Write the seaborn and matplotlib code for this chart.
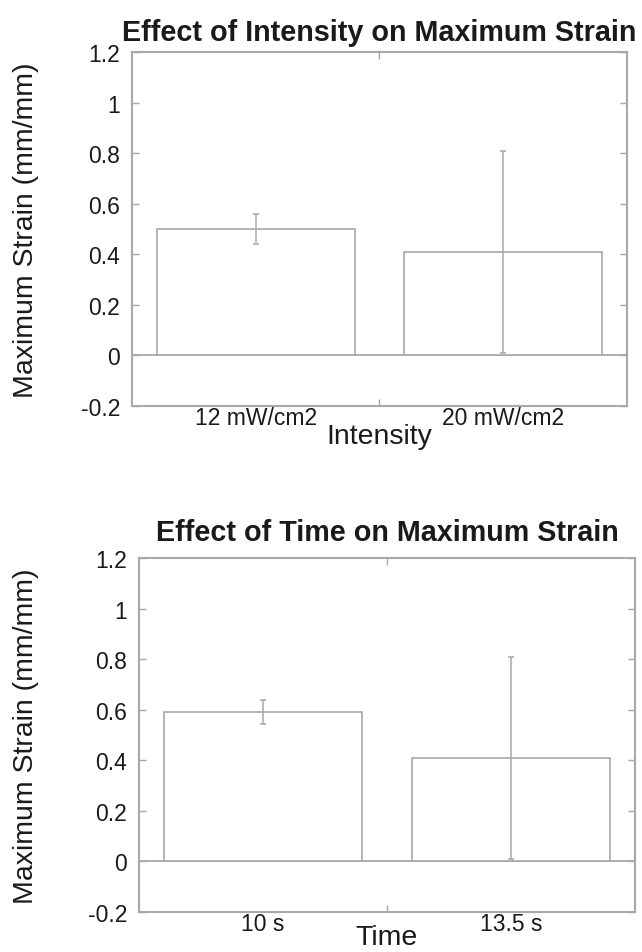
import numpy as np
import pandas as pd
import matplotlib
matplotlib.use("Agg")
import matplotlib.pyplot as plt
import seaborn as sns

# data
intensity = ["12 mW/cm2", "20 mW/cm2"]
intensity_strain = [0.50, 0.41]
intensity_err = [0.061, 0.40]

time_labels = ["10 s", "13.5 s"]
time_strain = [0.59, 0.41]
time_err = [0.048, 0.40]

y_ticks = [-0.2, 0, 0.2, 0.4, 0.6, 0.8, 1, 1.2]
y_tick_labels = ["-0.2", "0", "0.2", "0.4", "0.6", "0.8", "1", "1.2"]

sns.set_theme(style="white")
plt.rcParams['font.family'] = ['Liberation Sans', 'DejaVu Sans']

grey = "#a8a8a8"
dark = "#1a1a1a"


def strain_panel(ax, cats, vals, errs, title, xlabel, title_pad, ylab_x, xlab_y):
    df = pd.DataFrame({"cat": cats, "val": vals})
    sns.barplot(data=df, x="cat", y="val", ax=ax, color="white",
                edgecolor=grey, linewidth=1.2, width=0.8, errorbar=None)
    ax.errorbar(np.arange(len(cats)), vals, yerr=errs, fmt="none",
                ecolor=grey, elinewidth=1.1, capsize=2.5, capthick=1.1)
    ax.axhline(0, color=grey, lw=1.3, zorder=0.5)
    ax.set_xlim(-0.5, 1.5)
    ax.set_ylim(-0.2, 1.2)
    ax.set_yticks(y_ticks)
    ax.set_yticklabels(y_tick_labels)
    ax.tick_params(axis="y", direction="in", length=5, width=1, color=grey,
                   right=True, left=True, labelsize=16.5, labelcolor=dark, pad=8.5)
    ax.set_xticks([0, 1])
    ax.set_xticklabels(cats)
    ax.tick_params(axis="x", which="major", length=0, labelsize=16.5,
                   labelcolor=dark, pad=0)
    ax.set_xticks([0.5], minor=True)
    ax.tick_params(axis="x", which="minor", direction="in", length=5, width=1,
                   color=grey, top=True, bottom=True)
    for s in ax.spines.values():
        s.set_color(grey)
        s.set_linewidth(1.5)
    ax.set_title(title, fontsize=20.7, fontweight="bold", color=dark, pad=title_pad)
    ax.set_xlabel(xlabel, fontsize=20.5, color=dark)
    ax.set_ylabel("Maximum Strain (mm/mm)", fontsize=20.5, color=dark)
    ax.yaxis.set_label_coords(ylab_x, 0.5)
    ax.xaxis.set_label_coords(0.5, xlab_y)


fig = plt.figure(figsize=(6.42, 9.53), dpi=100)
ax1 = fig.add_axes([0.2056, 0.5729, 0.771, 0.3715])
ax2 = fig.add_axes([0.2165, 0.042, 0.7725, 0.3714])

strain_panel(ax1, intensity, intensity_strain, intensity_err,
             "Effect of Intensity on Maximum Strain", "Intensity",
             8.6, -0.188, -0.048)
strain_panel(ax2, time_labels, time_strain, time_err,
             "Effect of Time on Maximum Strain", "Time",
             13, -0.202, -0.034)

fig.savefig("out.png", dpi=100, facecolor="white")
